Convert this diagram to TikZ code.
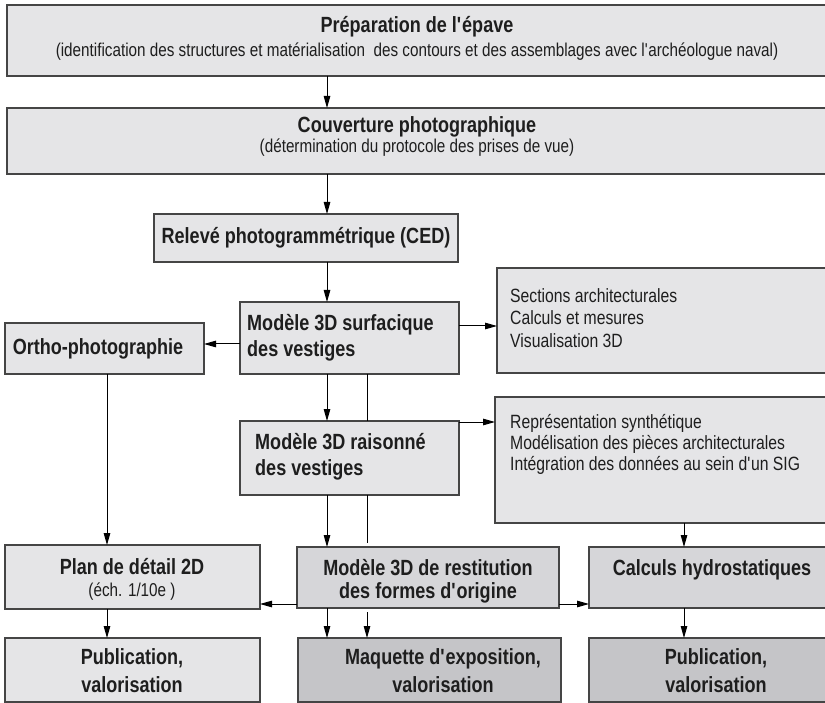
\documentclass[tikz,border=0pt]{standalone}
\usepackage{fontspec}
\setmainfont{Liberation Sans}[FakeStretch=0.82]
\usetikzlibrary{arrows.meta}
\definecolor{fillA}{HTML}{E5E5E7}
\definecolor{fillB}{HTML}{D6D6D9}
\definecolor{fillC}{HTML}{C5C5C8}
\definecolor{edge}{HTML}{454545}
\definecolor{ink}{HTML}{1E1E1E}
\newcommand{\q}{\textquotesingle}
\tikzset{
  box/.style={draw=edge, line width=1.6pt, fill=fillA, rectangle, inner sep=0pt, outer sep=0pt},
  ttl/.style={text=ink, font=\bfseries\fontsize{22}{26}\selectfont, align=center, inner sep=0pt},
  sub/.style={text=ink, font=\fontsize{18.6}{22}\selectfont, align=center, inner sep=0pt},
  lst/.style={text=ink, font=\fontsize{19.2}{22.5}\selectfont, align=left, inner sep=0pt, anchor=north west},
  arr/.style={draw=black, line width=1pt, -{Triangle[length=12pt,width=6.5pt]}},
  ln/.style={draw=black, line width=1pt}
}
\begin{document}
\begin{tikzpicture}[x=1pt,y=-1pt]
\useasboundingbox (0,0) rectangle (825,703);
\clip (0,0) rectangle (825,703);
% boxes
\node[box, minimum width=834, minimum height=71] (prep) at (424,40.5) {};
\node[box, minimum width=834, minimum height=66] (couv) at (424,141) {};
\node[box, minimum width=304, minimum height=48] (rel) at (306,238) {};
\node[box, minimum width=219, minimum height=72] (surf) at (349.5,338) {};
\node[box, minimum width=199, minimum height=51] (ortho) at (104.5,348.5) {};
\node[box, minimum width=343, minimum height=105] (sect) at (668.5,320.5) {};
\node[box, minimum width=219, minimum height=74] (rais) at (349.5,458) {};
\node[box, minimum width=345, minimum height=126] (repr) at (667.5,460) {};
\node[box, minimum width=255, minimum height=64] (plan) at (132.5,577) {};
\node[box, fill=fillB, minimum width=262, minimum height=61] (rest) at (428,577.5) {};
\node[box, fill=fillB, minimum width=251, minimum height=61] (calc) at (714.5,577.5) {};
\node[box, minimum width=255, minimum height=64] (pubA) at (132.5,670) {};
\node[box, fill=fillC, minimum width=263, minimum height=64] (maq) at (429.5,670) {};
\node[box, fill=fillC, minimum width=251, minimum height=64] (pubB) at (714.5,670) {};
% texts
\node[ttl] (tprep) at (417,27) {Préparation de l\q épave};
\node[sub] (sprep) at (417,52) {(identification des structures et matérialisation\ \ des contours et des assemblages avec l\q archéologue naval)};
\node[ttl] (tcouv) at (417,127) {Couverture photographique};
\node[sub] (scouv) at (417,148) {(détermination du protocole des prises de vue)};
\node[ttl] (trel) at (306,238) {Relevé photogrammétrique (CED)};
\node[ttl, align=left, anchor=west] (tsurf) at (247,338) {Modèle 3D surfacique\\des vestiges};
\node[ttl] (tortho) at (98,348.5) {Ortho-photographie};
\node[lst] (tsect) at (510,288) {Sections architecturales\\Calculs et mesures\\Visualisation 3D};
\node[ttl, align=left, anchor=west] (trais) at (255,457) {Modèle 3D raisonné\\des vestiges};
\node[lst, font=\fontsize{19.2}{21}\selectfont] (trepr) at (510,414) {Représentation synthétique\\Modélisation des pièces architecturales\\Intégration des données au sein d\q un SIG};
\node[ttl] (tplan) at (132,567) {Plan de détail 2D};
\node[sub, font=\fontsize{18.6}{22}\selectfont] (splan) at (132,592) {(éch. 1/10e )};
\node[ttl, font=\bfseries\fontsize{22}{23.5}\selectfont] (trest) at (428,581.5) {Modèle 3D de restitution\\des formes d\q origine};
\node[ttl] (tcalc) at (712,570) {Calculs hydrostatiques};
\node[ttl, font=\bfseries\fontsize{22}{28}\selectfont] (tpubA) at (132,671) {Publication,\\valorisation};
\node[ttl, font=\bfseries\fontsize{22}{28}\selectfont] (tmaq) at (443,671) {Maquette d\q exposition,\\valorisation};
\node[ttl, font=\bfseries\fontsize{22}{28}\selectfont] (tpubB) at (716,671) {Publication,\\valorisation};
% columns / rows
\coordinate (cA) at (327,0);
\coordinate (cB) at (367,0);
\coordinate (cO) at (107,0);
\coordinate (cR) at (684,0);
\coordinate (rO) at (0,344);
\coordinate (rS) at (0,326);
\coordinate (rR) at (0,422);
\coordinate (rB) at (0,604);
% connectors
\draw[arr] (prep.south -| cA) -- (couv.north -| cA);
\draw[arr] (couv.south -| cA) -- (rel.north -| cA);
\draw[arr] (rel.south -| cA) -- (surf.north -| cA);
\draw[arr] (surf.west |- rO) -- (ortho.east |- rO);
\draw[arr] (surf.east |- rS) -- (sect.west |- rS);
\draw[arr] (surf.south -| cA) -- (rais.north -| cA);
\draw[ln] (surf.south -| cB) -- (rais.north -| cB);
\draw[arr] (rais.east |- rR) -- (repr.west |- rR);
\draw[arr] (rais.south -| cA) -- (rest.north -| cA);
\draw[ln] (rais.south -| cB) -- ([yshift=4pt]rest.north -| cB);
\draw[arr] (ortho.south -| cO) -- (plan.north -| cO);
\draw[arr] (repr.south -| cR) -- (calc.north -| cR);
\draw[arr] (rest.west |- rB) -- (plan.east |- rB);
\draw[arr] (rest.east |- rB) -- (calc.west |- rB);
\draw[arr] (plan.south -| cO) -- (pubA.north -| cO);
\draw[arr] (rest.south -| cA) -- (maq.north -| cA);
\draw[arr] ([yshift=-4pt]rest.south -| cB) -- (maq.north -| cB);
\draw[arr] (calc.south -| cR) -- (pubB.north -| cR);
\end{tikzpicture}
\end{document}
